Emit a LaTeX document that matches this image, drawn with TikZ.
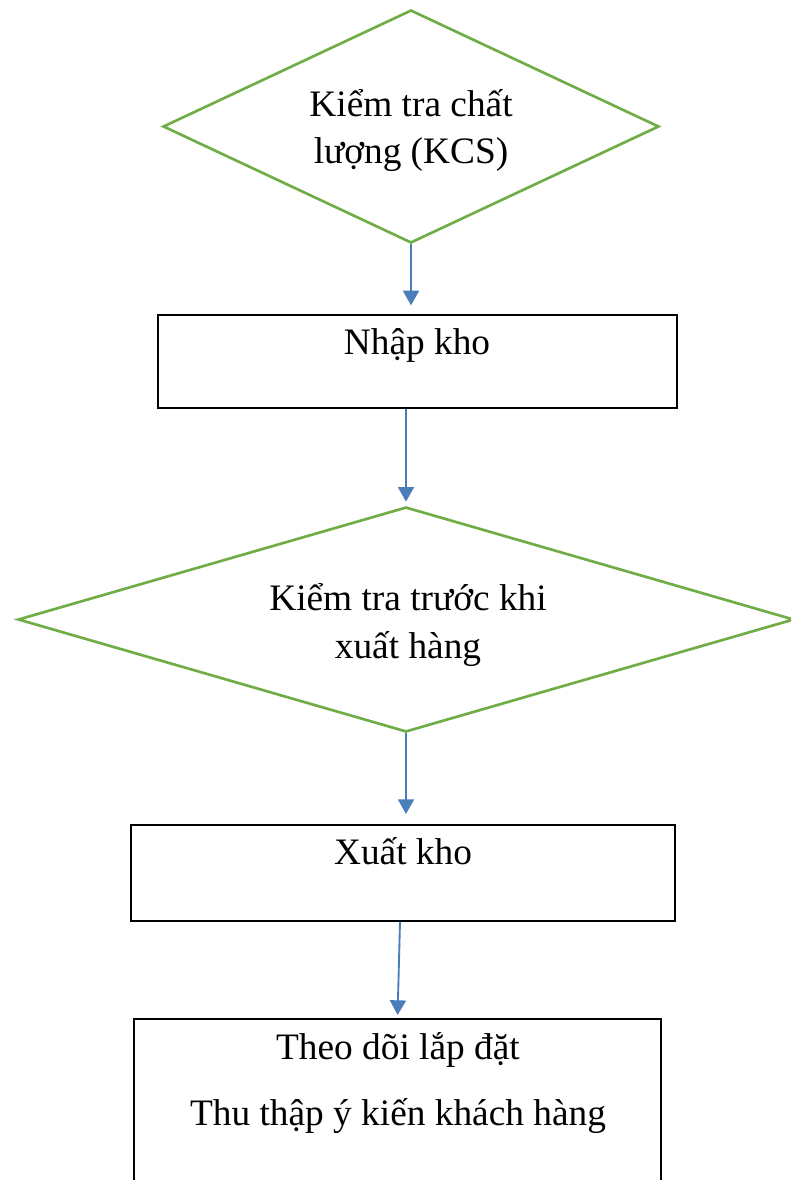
\documentclass[tikz,border=0pt]{standalone}
\usepackage{fontspec}
\setmainfont{Liberation Serif}
\usetikzlibrary{shapes.geometric,arrows.meta}
\definecolor{dgreen}{HTML}{70AD47}
\definecolor{ablue}{HTML}{4A7EBB}
\tikzset{
  dia/.style={diamond, draw=dgreen, line width=2pt, inner sep=0pt},
  box/.style={rectangle, draw=black, line width=1.5pt, inner sep=0pt},
  txt/.style={align=center, inner sep=0pt},
  conn/.style={draw=ablue, line width=1.4pt, -{Triangle[length=11pt,width=12pt]}, fill=ablue}
}
\begin{document}
\begin{tikzpicture}[x=0.75pt,y=-0.75pt]
\useasboundingbox (0,0) rectangle (791,1180);
\clip (0,0) rectangle (791,1180);
% shapes
\node[dia, minimum width=372pt, minimum height=174.75pt] (d1) at (411,126.5) {};
\node[box, minimum width=389.25pt, minimum height=69.75pt] (b1) at (417.5,361.5) {};
\node[dia, minimum width=582pt, minimum height=168.75pt] (d2) at (406,619.5) {};
\node[box, minimum width=408pt, minimum height=72pt] (b2) at (403,873) {};
\node[box, minimum width=395.25pt, minimum height=158.25pt] (b3) at (397.5,1124.5) {};
% texts
\node[txt, font=\fontsize{28pt}{35.25pt}\selectfont] (t1) at (411,130.5) {\strut Kiểm tra chất\\\strut lượng (KCS)};
\node[txt, anchor=base, font=\fontsize{28pt}{34pt}\selectfont] (t3) at (417,354.5) {Nhập kho};
\node[txt, font=\fontsize{28pt}{36pt}\selectfont] (t2) at (408,624.5) {\strut Kiểm tra trước khi\\\strut xuất hàng};
\node[txt, anchor=base, font=\fontsize{28pt}{34pt}\selectfont] (t4) at (403,864) {Xuất kho};
\node[txt, font=\fontsize{28pt}{49.5pt}\selectfont] (t5) at (398,1078.8) {\strut Theo dõi lắp đặt\\\strut Thu thập ý kiến khách hàng};
% connectors
\draw[conn, shorten >=6.5pt] (d1.south) -- (d1.south |- b1.north);
\draw[conn, shorten >=3pt] (d2.north |- b1.south) -- (d2.north);
\draw[conn, shorten >=7.5pt] (d2.south) -- (d2.south |- b2.north);
\draw[conn, shorten >=2.25pt] ([xshift=-2.25pt]b2.south) -- (b3.north);
\end{tikzpicture}
\end{document}
